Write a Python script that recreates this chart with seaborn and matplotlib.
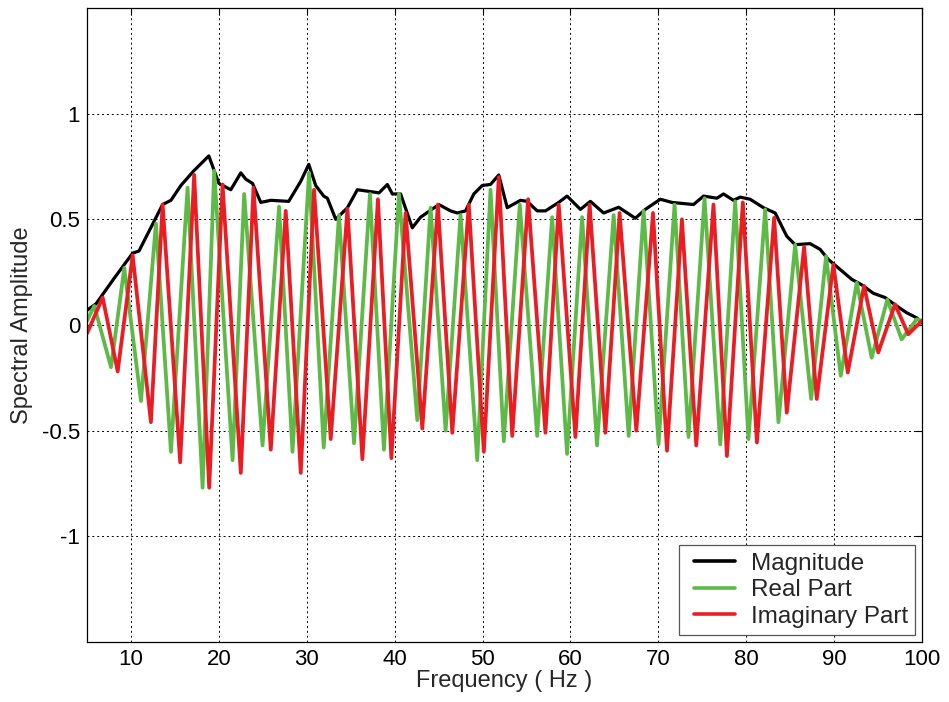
import numpy as np
import pandas as pd
import matplotlib
matplotlib.use("Agg")
import matplotlib.pyplot as plt
from matplotlib.legend_handler import HandlerLine2D
from matplotlib.lines import Line2D
import seaborn as sns

# Magnitude spectrum (frequency in Hz, amplitude)
mag_freq = [5.0, 6.02, 8.07, 10.19, 10.91, 13.60, 14.55, 15.68, 17.16, 18.86,
            20.0, 21.36, 22.50, 23.07, 23.83, 24.77, 25.91, 27.95, 29.32, 30.23,
            31.02, 31.93, 32.35, 33.30, 34.63, 35.76, 37.47, 38.22, 39.17, 39.74,
            40.68, 42.01, 42.95, 45.03, 46.36, 47.13, 48.07, 49.01, 49.97, 50.91,
            51.85, 52.81, 54.32, 55.08, 56.22, 57.16, 58.67, 59.62, 61.14, 62.27,
            63.78, 65.49, 67.39, 68.52, 70.23, 71.56, 74.01, 75.15, 76.67, 77.42,
            78.56, 79.32, 80.45, 81.97, 83.30, 84.62, 85.57, 87.27, 88.41, 89.35,
            90.68, 92.01, 93.15, 94.47, 95.80, 97.12, 98.26, 99.40, 100.0]
mag_vals = [0.07, 0.10, 0.22, 0.34, 0.35, 0.57, 0.59, 0.66, 0.73, 0.80,
            0.67, 0.64, 0.72, 0.69, 0.67, 0.58, 0.59, 0.585, 0.68, 0.76,
            0.66, 0.61, 0.60, 0.50, 0.555, 0.64, 0.63, 0.625, 0.665, 0.62,
            0.62, 0.46, 0.51, 0.57, 0.54, 0.53, 0.54, 0.62, 0.66, 0.665,
            0.71, 0.555, 0.59, 0.585, 0.54, 0.54, 0.58, 0.61, 0.547, 0.585,
            0.53, 0.557, 0.505, 0.547, 0.595, 0.58, 0.57, 0.61, 0.60, 0.62,
            0.59, 0.605, 0.595, 0.555, 0.53, 0.42, 0.38, 0.385, 0.358, 0.31,
            0.263, 0.216, 0.19, 0.15, 0.13, 0.09, 0.058, 0.034, 0.01]

# Real part
real_freq = [5.0, 5.83, 7.73, 9.24, 11.14, 12.84, 14.55, 16.44, 18.15, 19.47,
             21.56, 22.88, 24.97, 26.85, 28.38, 30.26, 31.93, 33.67, 35.38, 37.19,
             38.78, 40.49, 42.58, 44.09, 45.80, 47.50, 49.40, 50.91, 52.42, 54.24,
             56.22, 57.92, 59.62, 61.33, 63.03, 64.92, 66.63, 68.33, 70.03, 71.85,
             73.44, 75.26, 77.05, 78.75, 80.26, 82.16, 83.67, 85.57, 87.39, 89.09,
             90.76, 92.58, 94.28, 96.06, 97.69, 99.40, 100.0]
real_vals = [0.02, 0.09, -0.20, 0.27, -0.36, 0.48, -0.60, 0.65, -0.77, 0.73,
             -0.64, 0.62, -0.57, 0.56, -0.60, 0.72, -0.58, 0.52, -0.56, 0.62,
             -0.59, 0.62, -0.45, 0.555, -0.50, 0.52, -0.64, 0.64, -0.55, 0.57,
             -0.525, 0.51, -0.61, 0.51, -0.57, 0.52, -0.525, 0.54, -0.565, 0.57,
             -0.53, 0.60, -0.565, 0.585, -0.54, 0.547, -0.46, 0.38, -0.35, 0.326,
             -0.24, 0.20, -0.155, 0.12, -0.068, 0.027, 0.02]

# Imaginary part
imag_freq = [5.0, 6.78, 8.49, 10.19, 12.27, 13.60, 15.60, 17.19, 18.90, 20.42,
             22.50, 23.94, 25.91, 27.61, 29.32, 30.83, 32.73, 34.63, 36.33, 38.10,
             39.63, 41.25, 43.15, 44.92, 46.56, 48.44, 50.15, 51.85, 53.38, 55.19,
             57.16, 58.67, 60.57, 62.19, 63.98, 65.60, 67.50, 69.40, 70.99, 72.69,
             74.32, 76.28, 77.81, 79.62, 81.22, 83.18, 84.62, 86.59, 88.03, 89.92,
             91.56, 93.41, 95.03, 96.93, 98.44, 100.0]
imag_vals = [-0.04, 0.13, -0.22, 0.33, -0.46, 0.57, -0.65, 0.71, -0.77, 0.665,
             -0.70, 0.65, -0.59, 0.54, -0.70, 0.64, -0.54, 0.55, -0.635, 0.595,
             -0.63, 0.53, -0.49, 0.57, -0.51, 0.57, -0.60, 0.70, -0.525, 0.595,
             -0.51, 0.57, -0.53, 0.57, -0.51, 0.53, -0.50, 0.53, -0.595, 0.50,
             -0.57, 0.57, -0.62, 0.58, -0.556, 0.507, -0.415, 0.37, -0.35, 0.287,
             -0.225, 0.185, -0.13, 0.098, -0.044, 0.02]

x_ticks = [10, 20, 30, 40, 50, 60, 70, 80, 90, 100]
y_ticks = [-1, -0.5, 0, 0.5, 1]
y_tick_labels = ["-1", "-0.5", "0", "0.5", "1"]

sns.set_style("white")
plt.rcParams["font.family"] = ["Liberation Sans", "DejaVu Sans"]
plt.rcParams["axes.unicode_minus"] = False
plt.rcParams["lines.solid_joinstyle"] = "round"
plt.rcParams["lines.solid_capstyle"] = "round"

fig = plt.figure(figsize=(9.49, 7.02), dpi=100)
ax = fig.add_axes([0.0917, 0.0855, 0.8798, 0.9031])

sns.lineplot(x=mag_freq, y=mag_vals, ax=ax, color="black", linewidth=2.3,
             label="Magnitude", estimator=None, sort=False)
sns.lineplot(x=real_freq, y=real_vals, ax=ax, color="#5cbb46", linewidth=2.7,
             label="Real Part", estimator=None, sort=False)
sns.lineplot(x=imag_freq, y=imag_vals, ax=ax, color="#ec1c24", linewidth=2.7,
             label="Imaginary Part", estimator=None, sort=False)

ax.set_xlim(5, 100)
ax.set_ylim(-1.5, 1.5)
ax.set_xticks(x_ticks)
ax.set_yticks(y_ticks)
ax.set_yticklabels(y_tick_labels)
ax.tick_params(direction="in", length=5, width=0.8, labelsize=16,
               top=True, right=True, colors="black", pad=5)
ax.grid(True, linestyle=(0, (2, 3)), color="black", linewidth=0.7)
for s in ax.spines.values():
    s.set_color("black")
    s.set_linewidth(0.9)

ax.set_xlabel("Frequency ( Hz )", fontsize=17, labelpad=0)
ax.set_ylabel("Spectral Amplitude", fontsize=17, labelpad=6)

# legend: handles inset slightly from the frame edge
leg = ax.legend(loc="lower right", fontsize=17.5, frameon=True, fancybox=False,
                framealpha=1, edgecolor="#555555", handlelength=2.0,
                handletextpad=0.65, borderpad=0.3, labelspacing=0.19,
                borderaxespad=0.28,
                handler_map={Line2D: HandlerLine2D(xpad=0.33)})
leg.get_frame().set_linewidth(0.9)
for line in leg.get_lines():
    line.set_linewidth(2.6)

fig.savefig("out.png", dpi=100)
